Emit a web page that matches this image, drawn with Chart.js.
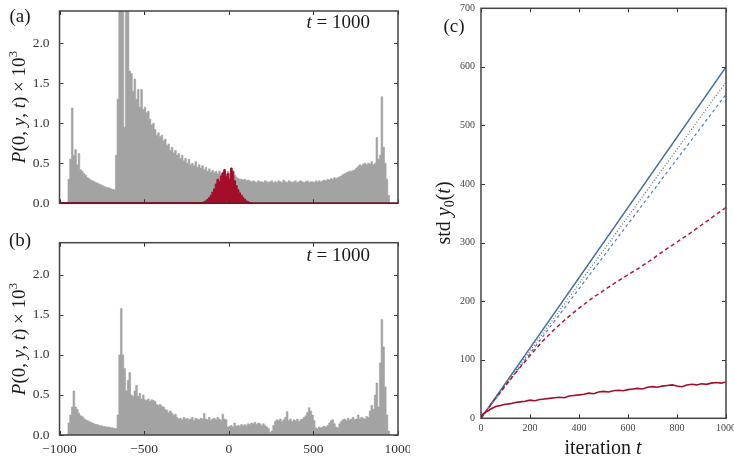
<!DOCTYPE html>
<html><head><meta charset="utf-8">
<script src="https://cdn.jsdelivr.net/npm/chart.js@4/dist/chart.umd.min.js"></script>
<style>
html,body{margin:0;padding:0;background:#fff;width:734px;height:459px;overflow:hidden;}
.box{position:absolute;}
</style></head><body>
<div class="box" style="left:0;top:0;width:410px;height:215px"><canvas id="ca"></canvas></div>
<div class="box" style="left:0;top:230px;width:410px;height:229px"><canvas id="cb"></canvas></div>
<div class="box" style="left:420px;top:0;width:314px;height:459px"><canvas id="cc"></canvas></div>
<script>
// ---------------- DATA ----------------
// histogram bins: left edge -1000, width 10 (200 bins)
const BIN_START = -1000, BIN_WIDTH = 10;
// panel (a) grey histogram, P(0,y,t) x 10^3
const histA = [
  0,0,0,0,0,0, 0.3,0.55,1.19,0.6,
  0.67,0.48,0.62,0.42,0.4,0.37,0.35,0.32,0.31,0.29,
  0.28,0.27,0.26,0.25,0.24,0.23,0.22,0.21,0.2,0.195,
  0.19,0.18,0.175,0.17,0.6,1.3,2.5,2.5,2.5,0.95,
  2.5,2.5,1.65,1.62,1.4,1.55,1.3,1.42,1.2,1.42,
  1.17,1.2,1.13,1.15,1.05,0.98,1.0,0.92,0.85,0.88,
  0.83,0.85,0.78,0.8,0.72,0.74,0.66,0.7,0.63,0.66,
  0.6,0.62,0.56,0.6,0.53,0.56,0.5,0.55,0.48,0.5,
  0.47,0.52,0.45,0.48,0.44,0.47,0.42,0.45,0.4,0.43,
  0.39,0.41,0.38,0.4,0.37,0.4,0.37,0.38,0.4,0.36,
  0.4,0.37,0.42,0.38,0.35,0.33,0.31,0.3,0.3,0.29,
  0.3,0.28,0.29,0.28,0.27,0.28,0.27,0.26,0.28,0.27,
  0.27,0.26,0.28,0.27,0.26,0.27,0.28,0.26,0.27,0.26,
  0.28,0.27,0.26,0.29,0.27,0.26,0.28,0.27,0.26,0.27,
  0.28,0.26,0.27,0.28,0.27,0.26,0.27,0.28,0.26,0.27,
  0.27,0.26,0.28,0.27,0.28,0.27,0.28,0.29,0.28,0.3,
  0.29,0.31,0.3,0.32,0.31,0.32,0.33,0.34,0.36,0.37,
  0.38,0.39,0.4,0.4,0.41,0.42,0.44,0.46,0.48,0.47,
  0.49,0.5,0.48,0.5,0.49,0.52,0.48,0.5,0.82,0.55,
  0.6,1.33,0.7,0.5,0.3,0.1,0,0,0,0
];
// panel (a) red histogram, bins from -150 to 150 (width 10)
const RED_START = -150;
const histARed = [
  0.01,0.02,0.03,0.05,0.07,0.1,0.14,0.18,0.24,0.3,
  0.27,0.34,0.38,0.42,0.33,0.37,0.3,0.44,0.4,0.28,
  0.22,0.17,0.13,0.1,0.07,0.05,0.03,0.02,0.01,0.005
];
// panel (b) grey histogram
const histB = [
  0,0,0,0,0,0, 0.15,0.25,0.35,0.55,
  0.35,0.32,0.27,0.24,0.23,0.21,0.19,0.18,0.17,0.16,
  0.15,0.14,0.13,0.13,0.12,0.12,0.11,0.11,0.1,0.1,
  0.1,0.09,0.09,0.08,0.08,0.25,1.0,1.58,1.0,0.83,
  0.55,0.68,0.78,0.5,0.48,0.55,0.62,0.48,0.52,0.45,
  0.5,0.44,0.43,0.45,0.42,0.44,0.43,0.42,0.38,0.37,
  0.38,0.36,0.35,0.32,0.31,0.28,0.3,0.27,0.25,0.26,
  0.22,0.2,0.21,0.19,0.22,0.2,0.21,0.19,0.2,0.22,
  0.18,0.21,0.2,0.19,0.21,0.2,0.27,0.2,0.19,0.22,
  0.18,0.2,0.21,0.19,0.22,0.2,0.18,0.26,0.2,0.19,
  0.1,0.11,0.12,0.1,0.15,0.11,0.12,0.11,0.13,0.12,
  0.13,0.12,0.14,0.13,0.15,0.14,0.16,0.13,0.15,0.14,
  0.12,0.14,0.12,0.1,0.08,0.03,0.05,0.12,0.17,0.19,
  0.18,0.2,0.17,0.19,0.22,0.29,0.18,0.2,0.17,0.19,
  0.18,0.2,0.17,0.19,0.2,0.22,0.24,0.28,0.34,0.3,
  0.25,0.18,0.09,0.08,0.1,0.09,0.1,0.11,0.1,0.12,
  0.15,0.18,0.19,0.14,0.1,0.09,0.14,0.17,0.19,0.2,
  0.18,0.21,0.19,0.2,0.22,0.19,0.2,0.25,0.2,0.22,
  0.21,0.2,0.23,0.22,0.3,0.37,0.32,0.5,0.65,0.35,
  0.9,1.44,1.1,0.6,0.25,0.05,0,0,0,0
];
const xTicksHist = [-1000,-500,0,500,1000];
const yTicksHist = [0,0.5,1.0,1.5,2.0];

// panel (c): std y0(t)
const tSolidBlue = [0,1000],  vSolidBlue = [0,600];
const tDotBlue   = [0,1000],  vDotBlue   = [0,574];
const tDashBlue  = [0,1000],  vDashBlue  = [0,553];
const tDashRed = [0,50,100,150,200,250,300,350,400,450,500,550,600,650,700,750,800,850,900,950,1000];
const vDashRed = [0,29,56,82,107,131,152,171,188,204,218,232,245,258,272,287,301,315,330,345,360];
const tSolidRed = [0,10,20,30,40,50,60,70,80,90,100,120,140,160,180,200,220,240,260,280,300,320,340,360,380,400,420,440,460,480,500,520,540,560,580,600,620,640,660,680,700,720,740,760,780,800,820,840,860,880,900,920,940,960,980,1000];
const vSolidRed = [3,8,11,13,16,18,20,21,22,23,24,25,27,28,29,31,30,32,33,34,35,36,35,38,39,40,41,43,42,45,46,45,47,48,47,49,50,51,50,53,54,53,55,56,57,55,54,57,58,57,59,58,60,61,60,62];
const xTicksC = [0,200,400,600,800,1000];
const yTicksC = [0,100,200,300,400,500,600,700];

// ---------------- HELPERS ----------------
const SERIF = '"Liberation Serif","Times New Roman","DejaVu Serif",serif';
const GREY = '#a3a3a3', RED = '#a50d2b';

function drawRich(ctx, it){
  const size = it.size;
  ctx.save();
  ctx.translate(it.x, it.y);
  if (it.rot) ctx.rotate(it.rot);
  ctx.fillStyle = it.color || '#1a1a1a';
  ctx.textBaseline = 'alphabetic';
  ctx.textAlign = 'left';
  const segs = it.parts.map(([t,s])=>{
    let fs = size, style = '', dy = 0;
    if (s === 'i') style = 'italic ';
    if (s === 'sup') { fs = size*0.7; dy = -size*0.42; }
    if (s === 'sub') { fs = size*0.7; dy = size*0.2; }
    const font = style + fs + 'px ' + SERIF;
    ctx.font = font;
    return {t, font, dy, w: ctx.measureText(t).width};
  });
  const total = segs.reduce((a,s)=>a+s.w,0);
  let x = it.align==='right' ? -total : (it.align==='left' ? 0 : -total/2);
  const base = size*0.33;
  segs.forEach(s=>{ ctx.font = s.font; ctx.fillText(s.t, x, base + s.dy); x += s.w; });
  ctx.restore();
}

const framePlugin = {
  id: 'frame',
  afterDatasetsDraw(chart, args, opts){
    const ctx = chart.ctx, a = chart.chartArea;
    const L = 4;
    ctx.save();
    ctx.strokeStyle = '#333'; ctx.lineWidth = 1;
    const seg = (x1,y1,x2,y2)=>{ctx.beginPath();ctx.moveTo(x1,y1);ctx.lineTo(x2,y2);ctx.stroke();};
    const xs = chart.scales.x, ys = chart.scales.y;
    xs.ticks.forEach(t=>{ const p = Math.round(xs.getPixelForValue(t.value))+0.5; seg(p,a.bottom,p,a.bottom-L); seg(p,a.top,p,a.top+L); });
    ys.ticks.forEach(t=>{ const p = Math.round(ys.getPixelForValue(t.value))+0.5; seg(a.left,p,a.left+L,p); seg(a.right,p,a.right-L,p); });
    ctx.lineWidth = 1.5; ctx.strokeStyle = '#444';
    ctx.strokeRect(a.left, a.top, a.right-a.left, a.bottom-a.top);
    if (opts.bottomColor){ ctx.strokeStyle = opts.bottomColor; seg(a.left, a.bottom, a.right, a.bottom); }
    ctx.restore();
  },
  afterDraw(chart, args, opts){
    (opts.texts||[]).forEach(it=>drawRich(chart.ctx, it));
  }
};
Chart.register(framePlugin);

function histPoints(vals, start){
  const pts = vals.map((v,i)=>({x: start + i*BIN_WIDTH, y: v}));
  pts.push({x: start + vals.length*BIN_WIDTH, y: vals[vals.length-1]});
  return pts;
}
function pairs(ts, vs){ return ts.map((t,i)=>({x:t, y:vs[i]})); }

function histScales(showX, xH, padB){
  return {
    x: { type:'linear', min:-1000, max:1000,
         afterBuildTicks: s=>{ s.ticks = xTicksHist.map(v=>({value:v})); },
         ticks:{ display: showX, font:{family:SERIF,size:13.5}, color:'#333', padding: padB,
                 callback: v => (v<0 ? '\u2212'+Math.abs(v) : String(v)) },
         grid:{display:false, drawTicks:false}, border:{display:false},
         afterFit: s=>{ s.height = xH; s.paddingLeft = 0; s.paddingRight = 0; } },
    y: { type:'linear', min:0, max:2.4,
         afterBuildTicks: s=>{ s.ticks = yTicksHist.map(v=>({value:v})); },
         ticks:{ font:{family:SERIF,size:13.5}, color:'#333', padding:10, callback: v=>Number(v).toFixed(1) },
         grid:{display:false, drawTicks:false}, border:{display:false},
         afterFit: s=>{ s.width = 59.5; s.paddingTop = 0; s.paddingBottom = 0; } }
  };
}
const commonOpts = { responsive:true, maintainAspectRatio:false, animation:false, events:[] };

// ---------------- PANEL (a) ----------------
new Chart(document.getElementById('ca'), {
  type:'line',
  data:{ datasets:[
    { data: (()=>{ const p = histPoints(histARed, RED_START); p[p.length-1] = {x:RED_START+histARed.length*BIN_WIDTH, y:0}; return [{x:-1000,y:0}].concat(p, [{x:1000,y:0}]); })(),
      stepped:'after', fill:'origin', backgroundColor:RED, borderColor:RED, borderWidth:1, pointRadius:0, order:0 },
    { data: histPoints(histA, BIN_START), stepped:'after', fill:'origin',
      backgroundColor:GREY, borderColor:GREY, borderWidth:0.6, pointRadius:0, order:1 }
  ]},
  options:{ ...commonOpts,
    layout:{ padding:{ top:11, right:12, left:0, bottom:0 } },
    scales: histScales(false, 11.7, 0),
    plugins:{ legend:{display:false}, tooltip:{enabled:false},
      frame:{ bottomColor:'#7a1020', texts:[
        {x:20, y:16, size:19, parts:[['(a)','r']]},
        {x:370, y:22, size:19, align:'right', parts:[['t','i'],[' = 1000','r']]},
        {x:19, y:107, size:19, rot:-Math.PI/2, parts:[['P','i'],['(0, ','r'],['y','i'],[', ','r'],['t','i'],[') \u00d7 10','r'],['3','sup']]}
      ]} }
  }
});

// ---------------- PANEL (b) ----------------
new Chart(document.getElementById('cb'), {
  type:'line',
  data:{ datasets:[
    { data: histPoints(histB, BIN_START), stepped:'after', fill:'origin',
      backgroundColor:GREY, borderColor:GREY, borderWidth:0.6, pointRadius:0 }
  ]},
  options:{ ...commonOpts,
    layout:{ padding:{ top:12.7, right:12, left:0, bottom:0 } },
    scales: histScales(true, 24, 6),
    plugins:{ legend:{display:false}, tooltip:{enabled:false},
      frame:{ texts:[
        {x:20, y:10, size:19, parts:[['(b)','r']]},
        {x:370, y:25, size:19, align:'right', parts:[['t','i'],[' = 1000','r']]},
        {x:19, y:109, size:19, rot:-Math.PI/2, parts:[['P','i'],['(0, ','r'],['y','i'],[', ','r'],['t','i'],[') \u00d7 10','r'],['3','sup']]}
      ]} }
  }
});

// ---------------- PANEL (c) ----------------
new Chart(document.getElementById('cc'), {
  type:'line',
  data:{ datasets:[
    { data: pairs(tSolidRed, vSolidRed), borderColor:'#a0102a', borderWidth:1.6, pointRadius:0, tension:0 },
    { data: pairs(tDashRed, vDashRed), borderColor:'#b3183a', borderWidth:1.5, borderDash:[4,3], pointRadius:0, tension:0 },
    { data: pairs(tDashBlue, vDashBlue), borderColor:'#4f7eae', borderWidth:1.2, borderDash:[3,3], pointRadius:0 },
    { data: pairs(tDotBlue, vDotBlue), borderColor:'#5d6b80', borderWidth:1.2, borderDash:[1,2], pointRadius:0 },
    { data: pairs(tSolidBlue, vSolidBlue), borderColor:'#46709e', borderWidth:1.5, pointRadius:0 }
  ]},
  options:{ ...commonOpts,
    layout:{ padding:{ top:8.3, right:8, left:0, bottom:0 } },
    scales:{
      x:{ type:'linear', min:0, max:1000,
          afterBuildTicks: s=>{ s.ticks = xTicksC.map(v=>({value:v})); },
          ticks:{ font:{family:SERIF,size:10}, color:'#444', padding:4, callback: v=>String(v) },
          grid:{display:false, drawTicks:false}, border:{display:false},
          afterFit: s=>{ s.height = 40.7; s.paddingLeft = 0; s.paddingRight = 0; } },
      y:{ type:'linear', min:0, max:700,
          afterBuildTicks: s=>{ s.ticks = yTicksC.map(v=>({value:v})); },
          ticks:{ font:{family:SERIF,size:10}, color:'#444', padding:6, callback: v=>String(v) },
          grid:{display:false, drawTicks:false}, border:{display:false},
          afterFit: s=>{ s.width = 61; s.paddingTop = 0; s.paddingBottom = 0; } }
    },
    plugins:{ legend:{display:false}, tooltip:{enabled:false},
      frame:{ texts:[
        {x:34, y:26, size:19, parts:[['(c)','r']]},
        {x:183, y:447, size:20, parts:[['iteration ','r'],['t','i']]},
        {x:23, y:213, size:20, rot:-Math.PI/2, parts:[['std ','r'],['y','i'],['0','sub'],['(','r'],['t','i'],[')','r']]}
      ]} }
  }
});
</script>
</body></html>
